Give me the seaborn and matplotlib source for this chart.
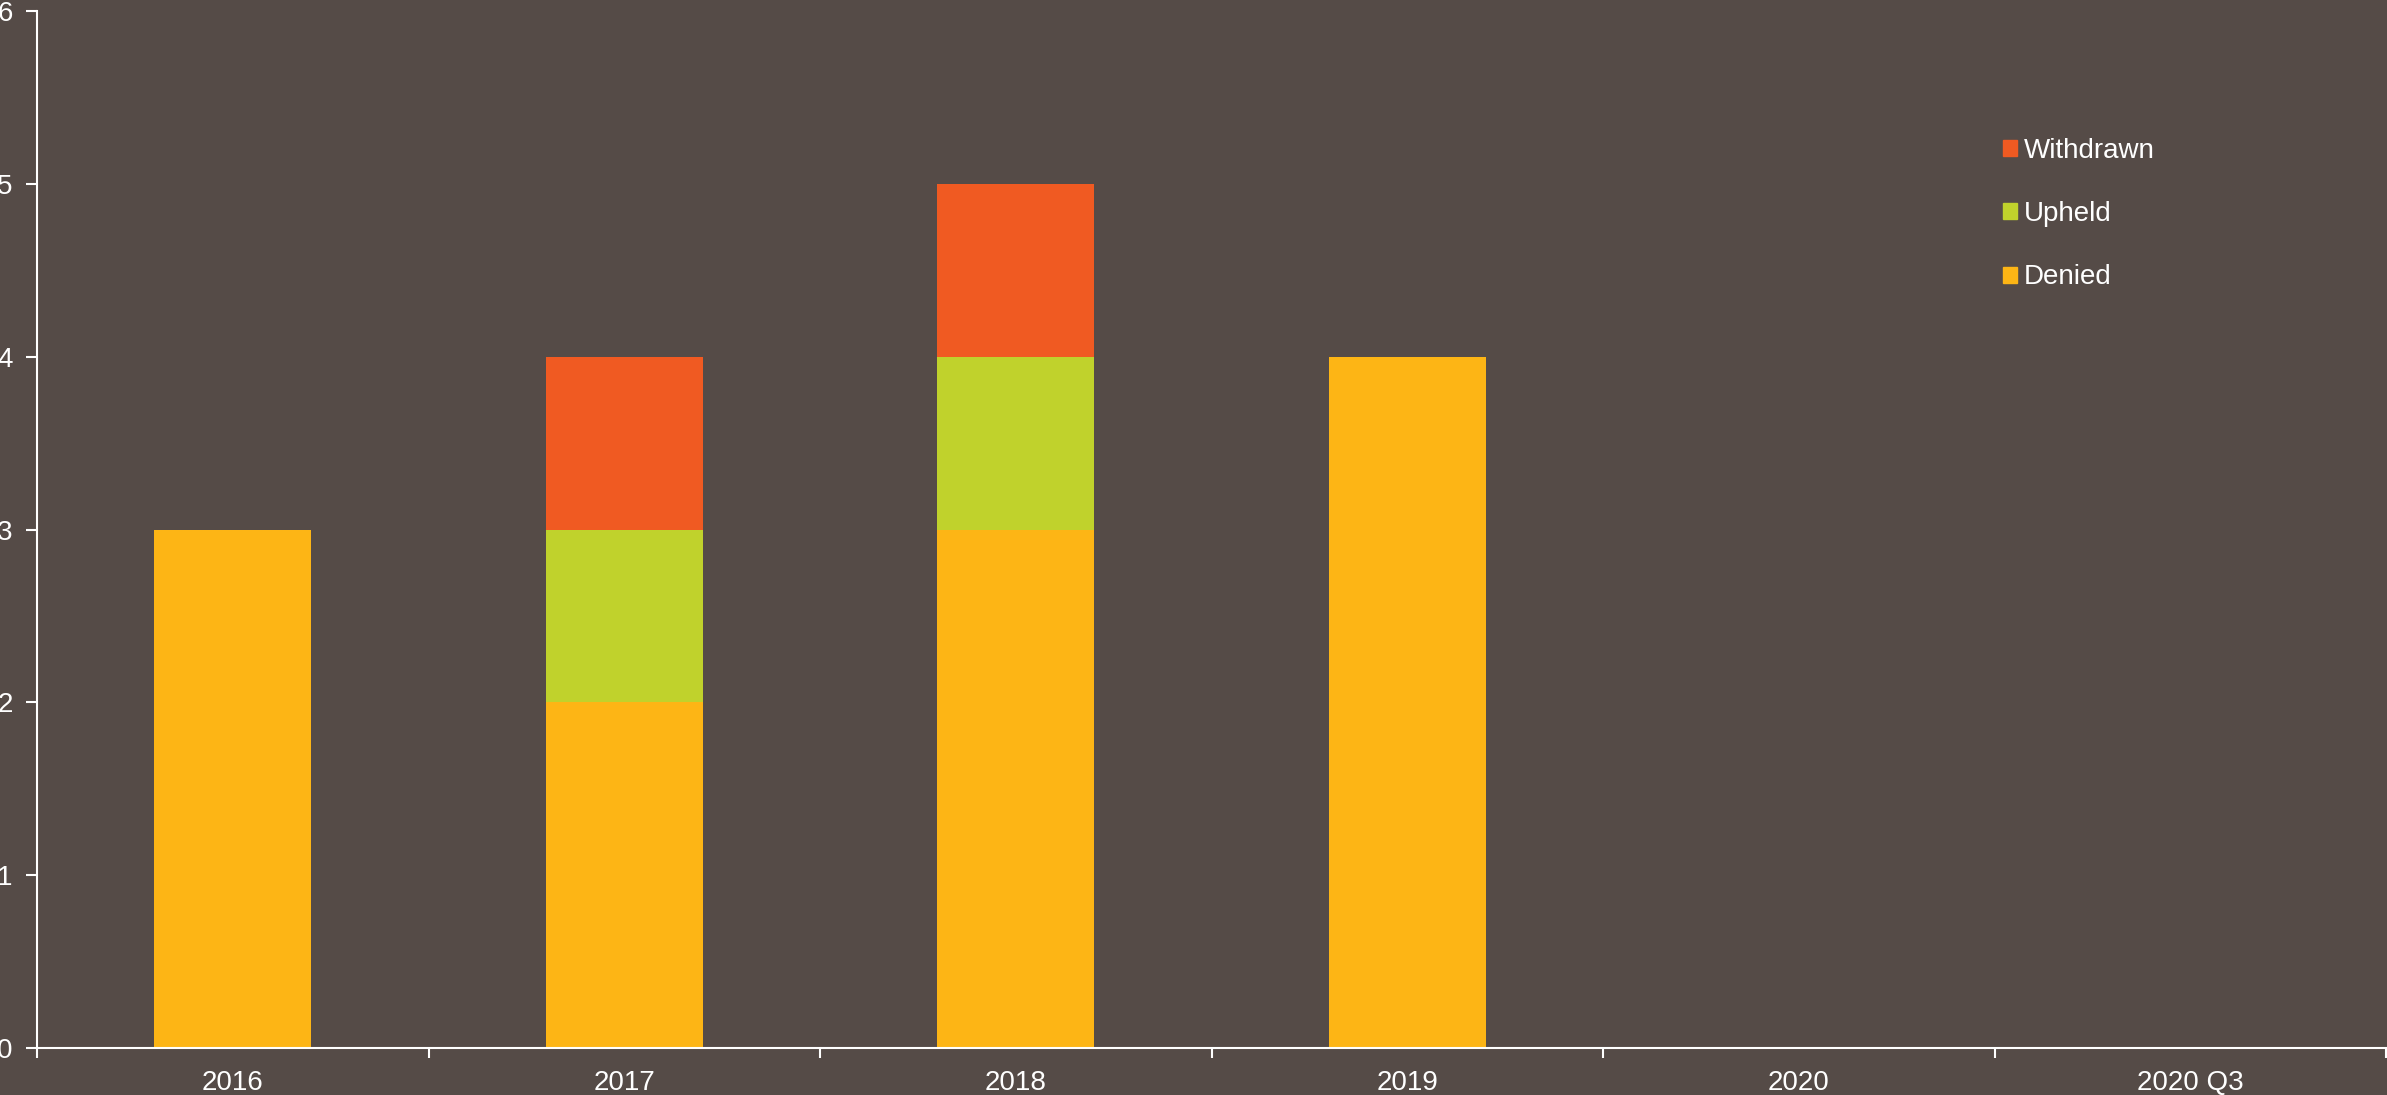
import numpy as np
import pandas as pd
import matplotlib
matplotlib.use('Agg')
import matplotlib.pyplot as plt
import matplotlib.patches as mpatches
import seaborn as sns

# data
categories = ['2016', '2017', '2018', '2019', '2020', '2020 Q3']
denied     = [3, 2, 3, 4, 0, 0]
upheld     = [0, 1, 1, 0, 0, 0]
withdrawn  = [0, 1, 1, 0, 0, 0]

BG        = '#554b47'
C_DENIED  = '#fdb515'
C_UPHELD  = '#c0d22c'
C_WITHDR  = '#f05a22'
FG        = '#ffffff'

sns.set_style('white')
plt.rcParams['font.family'] = ['Liberation Sans', 'DejaVu Sans']

df = pd.DataFrame({'year': categories, 'Denied': denied,
                   'Upheld': upheld, 'Withdrawn': withdrawn})
df['top']  = df['Denied'] + df['Upheld'] + df['Withdrawn']
df['mid']  = df['Denied'] + df['Upheld']

fig = plt.figure(figsize=(23.87, 10.95), dpi=100, facecolor=BG)
ax = fig.add_axes([37 / 2387, 47 / 1095, 2349 / 2387, 1037 / 1095])
ax.set_facecolor(BG)

# stacked bars: draw cumulative totals from the top layer down
for col, c in [('top', C_WITHDR), ('mid', C_UPHELD), ('Denied', C_DENIED)]:
    sns.barplot(data=df, x='year', y=col, color=c, saturation=1,
                width=0.4, ax=ax, linewidth=0, order=categories)

ax.set_xlim(-0.5, len(categories) - 0.5)
ax.set_ylim(0, 6)
ax.set_yticks(range(0, 7))
ax.set_xlabel('')
ax.set_ylabel('')

for s in ['top', 'right']:
    ax.spines[s].set_visible(False)
for s in ['left', 'bottom']:
    ax.spines[s].set_color(FG)
    ax.spines[s].set_linewidth(1.5)

# category separators as minor ticks on the x axis
ax.set_xticks(np.arange(-0.5, len(categories)), minor=True)
ax.tick_params(axis='x', which='major', length=0, pad=16, labelsize=20, colors=FG)
ax.tick_params(axis='x', which='minor', length=7, width=1.5, color=FG, direction='out')
ax.tick_params(axis='y', length=8, width=1.5, color=FG, direction='out',
               pad=9.5, labelsize=20, labelcolor=FG)
ax.tick_params(bottom=True, left=True, which='both')

handles = [mpatches.Patch(color=C_WITHDR, label='Withdrawn'),
           mpatches.Patch(color=C_UPHELD, label='Upheld'),
           mpatches.Patch(color=C_DENIED, label='Denied')]
fig.legend(handles=handles, loc='upper left',
           bbox_to_anchor=(2003 / 2387, 1 - 138 / 1095),
           frameon=False, fontsize=20, labelcolor=FG,
           handlelength=0.5, handleheight=0.5, handletextpad=0.25,
           labelspacing=1.34, borderpad=0, borderaxespad=0)

fig.savefig('out.png', dpi=100, facecolor=BG)
